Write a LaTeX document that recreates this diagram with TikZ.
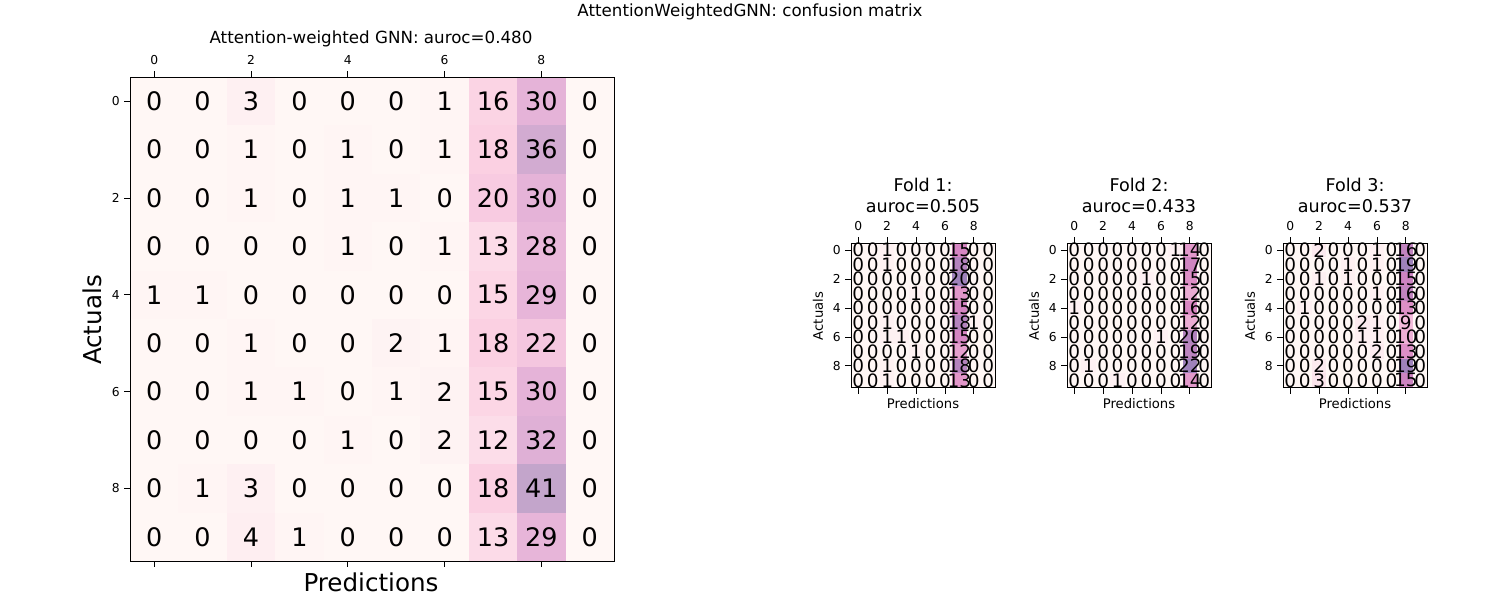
\documentclass[tikz,border=0pt]{standalone}
\usepackage{fontspec}
\setmainfont{DejaVu Sans}
\definecolor{lowc}{HTML}{FFF7F5}
\definecolor{bigA}{HTML}{FBCFE2}
\definecolor{bigB}{HTML}{E5B3D8}
\definecolor{bigC}{HTML}{C3A5CB}
\definecolor{foldA}{HTML}{F4C0DC}
\definecolor{foldB}{HTML}{D985C2}
\definecolor{foldC}{HTML}{9F82BB}
\tikzset{
  cellnum/.style={inner sep=0pt},
  ticklbl/.style={font=\fontsize{7}{8}\selectfont, inner sep=0pt},
  axlbl/.style={inner sep=0pt},
}
% \cmat{name}{x0}{y0}{cell}{max}{palette}{fontsize}{rows}
\newcommand{\cmat}[8]{%
  % fills first
  \foreach \row [count=\r from 0] in {#8} {
    \foreach \v [count=\c from 0] in \row {
      \pgfmathsetmacro\tt{\v/#5}
      \pgfmathsetmacro\pa{min(\tt/0.45,1)*100}
      \pgfmathsetmacro\pb{max(min((\tt-0.45)/0.28,1),0)*100}
      \pgfmathsetmacro\pc{max((\tt-0.73)/0.27,0)*100}
      \colorlet{cA}{#6A!\pa!lowc}
      \colorlet{cB}{#6B!\pb!cA}
      \colorlet{cC}{#6C!\pc!cB}
      \fill[cC] (#2+\c*#4,#3+\r*#4) rectangle ++(#4,#4);
    }
  }
  % then numbers
  \foreach \row [count=\r from 0] in {#8} {
    \foreach \v [count=\c from 0] in \row {
      \node[cellnum, font=\fontsize{#7}{#7}\selectfont] (#1-\r-\c)
        at (#2+\c*#4+0.5*#4,#3+\r*#4+0.5*#4) {\v};
    }
  }
  \draw[line width=0.5pt] (#2,#3) rectangle ++(10*#4,10*#4);
  \foreach \k in {0,2,4,6,8} {
    \draw (#2+\k*#4+0.5*#4,#3) -- ++(0,-6);
    \draw (#2+\k*#4+0.5*#4,#3+10*#4) -- ++(0,6);
    \draw (#2,#3+\k*#4+0.5*#4) -- ++(-6,0);
    \node[ticklbl] (#1-tx\k) at (#2+\k*#4+0.5*#4,#3-17) {\k};
    \node[ticklbl, anchor=east] (#1-ty\k) at (#2-10,#3+\k*#4+0.5*#4) {\k};
  }
}
\begin{document}
\begin{tikzpicture}[x=0.02cm,y=-0.02cm]
    \useasboundingbox (0,0) rectangle (1500,600);
    \node[axlbl, font=\fontsize{9.5}{11}\selectfont] (suptitle) at (750,12) {AttentionWeightedGNN: confusion matrix};
    % big matrix
    \cmat{big}{130}{77}{48.4}{41}{big}{14.5}{
      {0,0,3,0,0,0,1,16,30,0},{0,0,1,0,1,0,1,18,36,0},
      {0,0,1,0,1,1,0,20,30,0},{0,0,0,0,1,0,1,13,28,0},
      {1,1,0,0,0,0,0,15,29,0},{0,0,1,0,0,2,1,18,22,0},
      {0,0,1,1,0,1,2,15,30,0},{0,0,0,0,1,0,2,12,32,0},
      {0,1,3,0,0,0,0,18,41,0},{0,0,4,1,0,0,0,13,29,0}}
    \node[axlbl, font=\fontsize{9.5}{11}\selectfont] (bigtitle) at (371,39) {Attention-weighted GNN: auroc=0.480};
    \node[axlbl, font=\fontsize{14}{16}\selectfont] (bigxl) at (371,582) {Predictions};
    \node[axlbl, font=\fontsize{14}{16}\selectfont, rotate=90] (bigyl) at (92,320) {Actuals};
    % folds
    \cmat{fa}{851}{243}{14.45}{20}{fold}{10.5}{
      {0,0,1,0,0,0,0,15,0,0},{0,0,1,0,0,0,0,18,0,0},
      {0,0,0,0,0,0,0,20,0,0},{0,0,0,0,1,0,0,13,0,0},
      {0,0,0,0,0,0,0,15,0,0},{0,0,1,0,0,0,0,18,1,0},
      {0,0,1,1,0,0,0,15,0,0},{0,0,0,0,1,0,0,12,0,0},
      {0,0,1,0,0,0,0,18,0,0},{0,0,1,0,0,0,0,13,0,0}}
    \cmat{fb}{1067}{243}{14.45}{22}{fold}{10.5}{
      {0,0,0,0,0,0,0,1,14,0},{0,0,0,0,0,0,0,0,17,0},
      {0,0,0,0,0,1,0,0,15,0},{0,0,0,0,0,0,0,0,12,0},
      {1,0,0,0,0,0,0,0,16,0},{0,0,0,0,0,0,0,0,12,0},
      {0,0,0,0,0,0,1,0,20,0},{0,0,0,0,0,0,0,0,19,0},
      {0,1,0,0,0,0,0,0,22,0},{0,0,0,1,0,0,0,0,14,0}}
    \cmat{fc}{1283}{243}{14.45}{19}{fold}{10.5}{
      {0,0,2,0,0,0,1,0,16,0},{0,0,0,0,1,0,1,0,19,0},
      {0,0,1,0,1,0,0,0,15,0},{0,0,0,0,0,0,1,0,16,0},
      {0,1,0,0,0,0,0,0,13,0},{0,0,0,0,0,2,1,0,9,0},
      {0,0,0,0,0,1,1,0,10,0},{0,0,0,0,0,0,2,0,13,0},
      {0,0,2,0,0,0,0,0,19,0},{0,0,3,0,0,0,0,0,15,0}}
    \foreach \f/\x/\a in {1/923/505,2/1139/433,3/1355/537} {
      \node[axlbl, font=\fontsize{10}{12}\selectfont] (fold\f t) at (\x,185) {Fold \f:};
      \node[axlbl, font=\fontsize{10}{12}\selectfont] (fold\f a) at (\x,206) {auroc=0.\a};
      \node[axlbl, font=\fontsize{7.5}{9}\selectfont] (fold\f x) at (\x,404) {Predictions};
      \node[axlbl, font=\fontsize{7.5}{9}\selectfont, rotate=90] (fold\f y) at (\x-105,316) {Actuals};
    }
\end{tikzpicture}
\end{document}
